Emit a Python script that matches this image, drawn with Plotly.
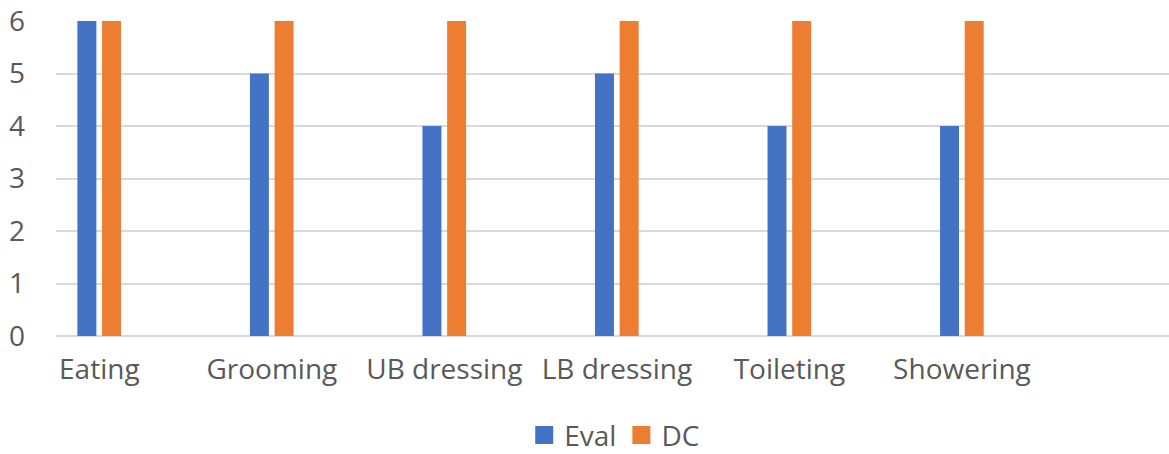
import plotly.graph_objects as go

categories = ["Eating", "Grooming", "UB dressing", "LB dressing", "Toileting", "Showering"]
eval_values = [6, 5, 4, 5, 4, 4]
dc_values = [6, 6, 6, 6, 6, 6]
y_ticks = [0, 1, 2, 3, 4, 5, 6]

TEXT = "#595959"
GRID = "#D9D9D9"
BLUE = "#4472C4"
ORANGE = "#ED7D31"
FONT = "Open Sans"
FS = 28

fig = go.Figure()
fig.add_trace(go.Bar(x=categories, y=eval_values, name="Eval", showlegend=False,
                     legendgroup="eval",
                     marker=dict(color=BLUE, line=dict(width=0)),
                     width=0.11, offset=-0.127))
fig.add_trace(go.Bar(x=categories, y=dc_values, name="DC", showlegend=False,
                     legendgroup="dc",
                     marker=dict(color=ORANGE, line=dict(width=0)),
                     width=0.11, offset=0.016))
# legend entries with larger square keys
fig.add_trace(go.Scatter(x=[None], y=[None], mode="markers", name="Eval", legendgroup="eval",
                         marker=dict(symbol="square", size=16, color=BLUE,
                                     line=dict(color=BLUE, width=2))))
fig.add_trace(go.Scatter(x=[None], y=[None], mode="markers", name="DC", legendgroup="dc",
                         marker=dict(symbol="square", size=16, color=ORANGE,
                                     line=dict(color=ORANGE, width=2))))

fig.update_layout(
    width=1169, height=454,
    margin=dict(l=56, r=0, t=21, b=118, autoexpand=False),
    paper_bgcolor="white", plot_bgcolor="white",
    font=dict(family=FONT, size=FS, color=TEXT),
    barmode="overlay",
    showlegend=True,
    legend=dict(orientation="h", x=0.502, xanchor="center", y=-0.315, yanchor="middle",
                font=dict(family=FONT, size=FS, color=TEXT), itemwidth=30,
                traceorder="normal", tracegroupgap=0),
    xaxis=dict(type="category", range=[-0.251, 6.2], showgrid=False, showline=False,
               automargin=False,
               ticks="", tickfont=dict(family=FONT, size=FS, color=TEXT),
               ticklabelstandoff=14),
    yaxis=dict(range=[0, 6], tickvals=y_ticks, showgrid=True, gridcolor=GRID, gridwidth=1.5,
               automargin=False,
               zeroline=True, zerolinecolor=GRID, zerolinewidth=2, showline=False,
               ticks="", tickfont=dict(family=FONT, size=FS, color=TEXT),
               ticklabelstandoff=30),
)

fig.write_html("out.html", config={"displayModeBar": False},
               post_script="document.body.style.margin='0';document.body.style.overflow='hidden';")
